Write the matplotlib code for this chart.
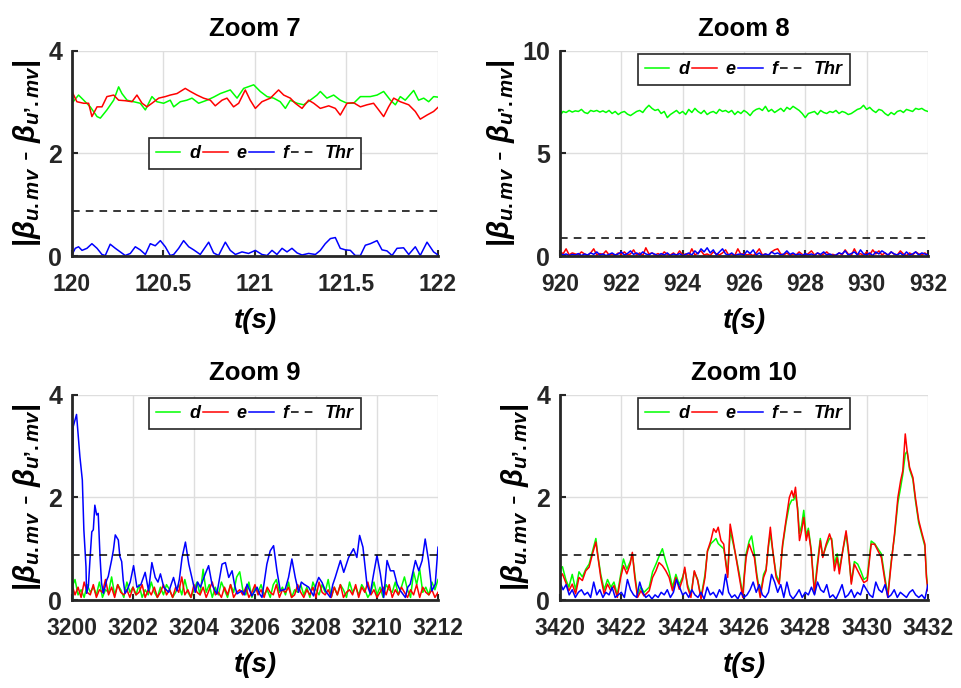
import numpy as np
import matplotlib.pyplot as plt

plt.rcParams['font.family'] = ['Liberation Sans', 'DejaVu Sans']
plt.rcParams['font.weight'] = 'bold'
plt.rcParams['mathtext.fontset'] = 'custom'
plt.rcParams['mathtext.it'] = 'Liberation Sans:italic:bold'
plt.rcParams['mathtext.rm'] = 'Liberation Sans:bold'
plt.rcParams['mathtext.bf'] = 'Liberation Sans:bold'
plt.rcParams['mathtext.default'] = 'it'

thr = 0.87

# ---- Zoom 7 : 120 s .. 122 s (time offsets in s) ----
t7_d = [0, 0.036, 0.064, 0.100, 0.137, 0.155, 0.191, 0.228, 0.255, 0.273,
        0.301, 0.337, 0.373, 0.401, 0.437, 0.464, 0.501, 0.537, 0.556, 0.592,
        0.628, 0.656, 0.692, 0.738, 0.774, 0.811, 0.865, 0.902, 0.938, 0.993,
        1.029, 1.066, 1.102, 1.138, 1.166, 1.193, 1.230, 1.266, 1.302, 1.339,
        1.357, 1.393, 1.430, 1.466, 1.503, 1.539, 1.576, 1.630, 1.667, 1.703,
        1.740, 1.767, 1.794, 1.821, 1.867, 1.894, 1.922, 1.949, 1.976, 2.0]
d7 = [2.98, 3.14, 3.04, 2.91, 2.72, 2.69, 2.85, 3.04, 3.30, 3.17,
      3.04, 3.01, 2.98, 2.85, 3.11, 3.01, 2.98, 3.04, 2.91, 3.01,
      3.04, 3.08, 2.98, 3.04, 3.10, 3.17, 3.24, 3.08, 3.27, 3.34,
      3.21, 3.11, 3.08, 3.01, 2.88, 3.04, 2.98, 2.95, 3.04, 3.14,
      3.21, 3.08, 3.14, 3.04, 2.98, 2.98, 3.11, 3.11, 3.14, 3.21,
      3.04, 2.95, 3.11, 3.04, 3.23, 3.04, 3.08, 3.01, 3.11, 3.10]
t7_e = [0, 0.027, 0.064, 0.091, 0.109, 0.137, 0.164, 0.191, 0.228, 0.255,
        0.291, 0.328, 0.355, 0.383, 0.410, 0.437, 0.474, 0.510, 0.537, 0.574,
        0.619, 0.647, 0.683, 0.719, 0.756, 0.783, 0.820, 0.847, 0.883, 0.911,
        0.947, 0.974, 1.002, 1.038, 1.084, 1.129, 1.157, 1.193, 1.220, 1.257,
        1.293, 1.321, 1.357, 1.403, 1.439, 1.466, 1.503, 1.539, 1.576, 1.612,
        1.648, 1.676, 1.703, 1.730, 1.758, 1.794, 1.840, 1.876, 1.903, 1.940,
        1.976, 2.0]
e7 = [3.21, 3.01, 2.98, 2.98, 2.72, 2.91, 2.91, 3.11, 3.14, 3.04,
      3.03, 3.01, 3.14, 2.98, 2.91, 2.98, 3.08, 3.11, 3.14, 3.17,
      3.27, 3.21, 3.14, 3.08, 3.04, 2.93, 3.04, 3.08, 2.91, 2.98,
      3.24, 3.04, 2.88, 3.01, 3.08, 3.24, 3.14, 3.08, 2.98, 2.88,
      3.04, 2.98, 2.88, 2.93, 2.88, 2.75, 2.98, 2.99, 2.91, 2.95,
      2.98, 2.85, 2.72, 2.91, 3.08, 3.01, 2.95, 2.82, 2.67, 2.75,
      2.82, 2.90]
t7_f = [0, 0.018, 0.036, 0.055, 0.082, 0.109, 0.137, 0.164, 0.182, 0.209,
        0.237, 0.264, 0.291, 0.319, 0.346, 0.373, 0.401, 0.428, 0.455, 0.483,
        0.510, 0.537, 0.556, 0.583, 0.610, 0.638, 0.665, 0.701, 0.747, 0.774,
        0.801, 0.838, 0.865, 0.893, 0.929, 0.965, 1.002, 1.038, 1.066, 1.093,
        1.120, 1.148, 1.175, 1.202, 1.230, 1.257, 1.293, 1.330, 1.357, 1.384,
        1.412, 1.439, 1.466, 1.494, 1.521, 1.548, 1.576, 1.603, 1.630, 1.667,
        1.694, 1.721, 1.749, 1.776, 1.812, 1.840, 1.876, 1.903, 1.940, 1.976,
        2.0]
f7 = [0.02, 0.15, 0.18, 0.11, 0.15, 0.24, 0.15, 0.03, 0.01, 0.23,
      0.15, 0.08, 0.01, 0.05, 0.18, 0.12, 0.03, 0.24, 0.20, 0.30,
      0.18, 0.01, 0.03, 0.15, 0.30, 0.18, 0.12, 0.03, 0.27, 0.06,
      0.01, 0.27, 0.11, 0.03, 0.08, 0.05, 0.11, 0.03, 0.01, 0.11,
      0.03, 0.15, 0.08, 0.15, 0.06, 0.02, 0.05, 0.03, 0.11, 0.24,
      0.34, 0.36, 0.15, 0.12, 0.11, 0.01, 0.01, 0.21, 0.24, 0.30,
      0.12, 0.10, 0.01, 0.15, 0.16, 0.03, 0.18, 0.01, 0.27, 0.08,
      0.02]

# ---- Zoom 8 : 920 s .. 932 s, one value every 0.1 s ----
d8 = [6.85, 7.05, 7.0, 7.1, 7.02, 7.08, 7.05, 7.15, 7.0, 6.95,
      7.1, 7.05, 7.1, 7.02, 7.08, 7.0, 7.1, 6.95, 7.05, 6.9,
      7.0, 7.05, 6.92, 6.85, 6.95, 7.05, 7.1, 7.0, 7.2, 7.35,
      7.2, 7.1, 7.15, 6.95, 7.05, 6.75, 6.9, 7.0, 7.1, 6.95,
      7.05, 6.9, 7.15, 7.0, 7.2, 7.05, 6.95, 7.1, 6.9, 7.0,
      7.05, 6.95, 7.15, 7.05, 7.1, 7.0, 7.1, 6.9, 7.05, 6.95,
      7.1, 7.0, 6.85, 7.05, 7.15, 7.2, 7.1, 7.3, 7.05, 7.15,
      7.0, 7.1, 7.2, 7.05, 7.25, 7.15, 7.3, 7.2, 7.1, 6.95,
      6.75, 6.95, 7.0, 7.05, 6.9, 7.1, 7.0, 6.95, 7.05, 7.0,
      7.1, 6.95, 7.05, 7.0, 6.9, 6.95, 7.05, 7.15, 7.2, 7.35,
      7.15, 7.25, 7.1, 7.0, 7.15, 7.1, 6.95, 6.85, 7.0, 6.9,
      7.05, 7.1, 7.0, 7.15, 7.1, 7.05, 7.2, 7.15, 7.2, 7.1,
      7.05]
e8 = [0.25, 0.1, 0.35, 0.05, 0.15, 0.1, 0.05, 0.2, 0.1, 0.02,
      0.15, 0.35, 0.05, 0.12, 0.08, 0.25, 0.05, 0.1, 0.02, 0.15,
      0.08, 0.2, 0.05, 0.1, 0.3, 0.05, 0.15, 0.02, 0.4, 0.1,
      0.15, 0.05, 0.12, 0.02, 0.2, 0.08, 0.05, 0.15, 0.02, 0.25,
      0.05, 0.1, 0.02, 0.35, 0.05, 0.15, 0.25, 0.05, 0.1, 0.02,
      0.2, 0.1, 0.05, 0.15, 0.3, 0.05, 0.1, 0.02, 0.35, 0.08,
      0.12, 0.05, 0.1, 0.02, 0.15, 0.35, 0.05, 0.1, 0.02, 0.2,
      0.3, 0.35, 0.1, 0.05, 0.15, 0.02, 0.1, 0.05, 0.2, 0.08,
      0.02, 0.12, 0.25, 0.05, 0.15, 0.02, 0.1, 0.2, 0.05, 0.08,
      0.02, 0.15, 0.05, 0.3, 0.1, 0.02, 0.35, 0.05, 0.12, 0.02,
      0.2, 0.05, 0.3, 0.1, 0.25, 0.05, 0.15, 0.02, 0.2, 0.08,
      0.05, 0.25, 0.1, 0.02, 0.15, 0.05, 0.2, 0.1, 0.05, 0.15,
      0.02]
f8 = [0.15, 0.05, 0.1, 0.02, 0.08, 0.05, 0.12, 0.02, 0.1, 0.05,
      0.15, 0.08, 0.2, 0.05, 0.1, 0.02, 0.08, 0.15, 0.05, 0.1,
      0.2, 0.05, 0.12, 0.25, 0.08, 0.15, 0.05, 0.2, 0.1, 0.05,
      0.15, 0.08, 0.02, 0.12, 0.05, 0.15, 0.02, 0.1, 0.05, 0.12,
      0.02, 0.08, 0.15, 0.05, 0.25, 0.1, 0.35, 0.2, 0.4, 0.15,
      0.3, 0.05, 0.2, 0.35, 0.1, 0.05, 0.15, 0.02, 0.08, 0.1,
      0.05, 0.25, 0.12, 0.3, 0.05, 0.15, 0.02, 0.1, 0.05, 0.2,
      0.1, 0.15, 0.05, 0.1, 0.25, 0.08, 0.15, 0.05, 0.1, 0.02,
      0.12, 0.05, 0.1, 0.02, 0.15, 0.08, 0.2, 0.05, 0.1, 0.02,
      0.05, 0.15, 0.1, 0.25, 0.05, 0.12, 0.2, 0.05, 0.3, 0.1,
      0.05, 0.15, 0.02, 0.2, 0.1, 0.25, 0.15, 0.05, 0.2, 0.1,
      0.05, 0.15, 0.02, 0.2, 0.05, 0.1, 0.2, 0.05, 0.15, 0.1,
      0.05]

# ---- Zoom 9 : 3200 s .. 3212 s ----
d9 = [0.25, 0.4, 0.1, 0.2, 0.05, 0.3, 0.15, 0.25, 0.1, 0.35,
      0.05, 0.2, 0.15, 0.45, 0.1, 0.3, 0.2, 0.05, 0.35, 0.15,
      0.25, 0.1, 0.3, 0.05, 0.2, 0.1, 0.35, 0.15, 0.05, 0.25,
      0.1, 0.3, 0.2, 0.05, 0.15, 0.3, 0.1, 0.4, 0.15, 0.05,
      0.2, 0.35, 0.1, 0.6, 0.15, 0.3, 0.05, 0.25, 0.1, 0.35,
      0.2, 0.05, 0.3, 0.15, 0.45, 0.55, 0.2, 0.1, 0.35, 0.05,
      0.25, 0.15, 0.3, 0.1, 0.2, 0.05, 0.3, 0.4, 0.15, 0.25,
      0.1, 0.35, 0.05, 0.2, 0.15, 0.3, 0.1, 0.25, 0.05, 0.35,
      0.2, 0.1, 0.3, 0.15, 0.4, 0.05, 0.25, 0.1, 0.3, 0.2,
      0.05, 0.35, 0.15, 0.25, 0.1, 0.3, 0.2, 0.05, 0.15, 0.35,
      0.1, 0.25, 0.05, 0.3, 0.2, 0.15, 0.35, 0.1, 0.25, 0.45,
      0.2, 0.05, 0.55, 0.3, 0.6, 0.15, 0.25, 0.1, 0.35, 0.2,
      0.4]
e9 = [0.3, 0.1, 0.25, 0.05, 0.35, 0.15, 0.1, 0.3, 0.05, 0.2,
      0.15, 0.4, 0.1, 0.25, 0.05, 0.3, 0.15, 0.1, 0.2, 0.05,
      0.25, 0.1, 0.15, 0.3, 0.05, 0.2, 0.1, 0.25, 0.05, 0.15,
      0.3, 0.1, 0.2, 0.05, 0.25, 0.15, 0.45, 0.1, 0.2, 0.05,
      0.3, 0.15, 0.1, 0.25, 0.05, 0.2, 0.35, 0.1, 0.15, 0.05,
      0.25, 0.1, 0.3, 0.05, 0.15, 0.2, 0.1, 0.25, 0.05, 0.15,
      0.3, 0.1, 0.2, 0.05, 0.25, 0.15, 0.1, 0.3, 0.05, 0.2,
      0.15, 0.25, 0.05, 0.1, 0.3, 0.15, 0.05, 0.2, 0.1, 0.25,
      0.05, 0.35, 0.15, 0.1, 0.2, 0.05, 0.25, 0.1, 0.3, 0.05,
      0.15, 0.2, 0.1, 0.3, 0.05, 0.25, 0.15, 0.35, 0.1, 0.2,
      0.05, 0.15, 0.25, 0.1, 0.3, 0.05, 0.2, 0.1, 0.25, 0.15,
      0.05, 0.2, 0.1, 0.3, 0.05, 0.25, 0.15, 0.1, 0.2, 0.05,
      0.15]
t9_f = [0.0, 0.04, 0.15, 0.26, 0.34, 0.39, 0.46, 0.48, 0.54, 0.59,
        0.65, 0.70, 0.75, 0.81, 0.86, 0.92, 0.97, 1.03, 1.14, 1.19,
        1.30, 1.36, 1.42, 1.52, 1.57, 1.63, 1.68, 1.74, 1.80, 1.91,
        2.02, 2.13, 2.26, 2.40, 2.51, 2.62, 2.73, 2.82, 2.90, 3.01,
        3.17, 3.25, 3.33, 3.44, 3.52, 3.61, 3.72, 3.83, 3.93, 4.04,
        4.12, 4.21, 4.37, 4.48, 4.59, 4.67, 4.75, 4.92, 5.03, 5.14,
        5.25, 5.33, 5.41, 5.57, 5.65, 5.74, 5.90, 6.07, 6.15, 6.23,
        6.39, 6.50, 6.61, 6.72, 6.83, 6.99, 7.10, 7.21, 7.32, 7.43,
        7.52, 7.60, 7.76, 7.92, 8.00, 8.09, 8.20, 8.31, 8.47, 8.55,
        8.63, 8.80, 8.91, 9.07, 9.23, 9.34, 9.43, 9.54, 9.67, 9.78,
        9.89, 10.00, 10.11, 10.22, 10.33, 10.44, 10.55, 10.66, 10.77, 10.93,
        11.01, 11.09, 11.26, 11.37, 11.48, 11.58, 11.69, 11.80, 11.91, 12.0]
f9 = [0.2, 3.38, 3.62, 2.80, 2.34, 1.37, 0.65, 0.13, 0.28, 0.78,
      1.33, 1.37, 1.85, 1.66, 1.69, 0.85, 0.33, 0.13, 0.39, 0.46,
      0.78, 0.98, 1.27, 1.17, 0.85, 0.75, 0.39, 0.13, 0.18, 0.35,
      0.67, 0.25, 0.30, 0.54, 0.18, 0.73, 0.44, 0.35, 0.51, 0.25,
      0.15, 0.30, 0.44, 0.18, 0.40, 0.83, 1.13, 0.70, 0.44, 0.15,
      0.35, 0.25, 0.51, 0.67, 0.31, 0.20, 0.12, 0.70, 0.73, 0.44,
      0.57, 0.30, 0.12, 0.18, 0.10, 0.31, 0.08, 0.25, 0.12, 0.05,
      0.70, 0.96, 1.06, 0.57, 0.18, 0.21, 0.44, 0.80, 0.44, 0.15,
      0.35, 0.31, 0.25, 0.08, 0.30, 0.44, 0.34, 0.18, 0.05, 0.30,
      0.44, 0.77, 0.54, 0.83, 1.00, 0.83, 1.26, 1.03, 0.31, 0.12,
      0.51, 0.87, 0.51, 0.05, 0.77, 0.57, 0.57, 0.31, 0.18, 0.05,
      0.25, 0.31, 0.77, 0.57, 0.77, 1.19, 0.77, 0.18, 0.31, 1.03]

# ---- Zoom 10 : 3420 s .. 3432 s ----
t10 = [0.0, 0.08, 0.19, 0.29, 0.40, 0.51, 0.62, 0.73, 0.84, 0.95,
       1.06, 1.17, 1.24, 1.33, 1.44, 1.55, 1.66, 1.76, 1.87, 1.98,
       2.07, 2.18, 2.29, 2.36, 2.44, 2.53, 2.64, 2.74, 2.91, 3.02,
       3.13, 3.23, 3.34, 3.45, 3.56, 3.67, 3.78, 3.89, 4.00, 4.07,
       4.16, 4.27, 4.38, 4.49, 4.60, 4.73, 4.81, 4.92, 5.01, 5.09,
       5.16, 5.25, 5.34, 5.41, 5.47, 5.55, 5.63, 5.74, 5.85, 5.96,
       6.01, 6.07, 6.17, 6.25, 6.34, 6.42, 6.53, 6.64, 6.72, 6.80,
       6.86, 6.94, 7.05, 7.15, 7.26, 7.37, 7.48, 7.56, 7.62, 7.68,
       7.75, 7.81, 7.88, 7.95, 8.03, 8.10, 8.19, 8.30, 8.38, 8.49,
       8.57, 8.68, 8.79, 8.86, 8.95, 9.04, 9.11, 9.22, 9.33, 9.41,
       9.50, 9.60, 9.71, 9.82, 9.91, 10.02, 10.15, 10.26, 10.37, 10.48,
       10.58, 10.69, 10.80, 10.91, 11.02, 11.11, 11.18, 11.26, 11.32, 11.40,
       11.51, 11.59, 11.70, 11.81, 11.90, 11.95, 12.0]
d10 = [0.60, 0.65, 0.40, 0.25, 0.50, 0.20, 0.55, 0.45, 0.60, 0.70,
       0.95, 1.20, 0.85, 0.50, 0.20, 0.40, 0.25, 0.35, 0.10, 0.50,
       0.80, 0.60, 0.75, 0.90, 0.50, 0.10, 0.25, 0.15, 0.25, 0.55,
       0.70, 0.85, 1.00, 0.75, 0.55, 0.25, 0.50, 0.30, 0.45, 0.60,
       0.30, 0.10, 0.55, 0.40, 0.05, 0.50, 0.95, 1.10, 1.15, 1.20,
       1.10, 1.05, 1.00, 0.75, 0.50, 1.35, 1.15, 0.85, 0.50, 0.10,
       0.50, 0.90, 1.15, 1.25, 0.90, 0.50, 0.10, 0.50, 0.60, 1.05,
       1.30, 0.95, 0.50, 0.35, 1.05, 1.50, 1.85, 1.95, 1.95, 2.05,
       1.80, 1.30, 1.45, 1.75, 1.25, 1.40, 1.00, 0.15, 0.65, 1.20,
       0.85, 1.05, 1.20, 1.20, 0.70, 0.90, 0.60, 0.95, 1.30, 0.90,
       0.35, 0.75, 0.70, 0.55, 0.40, 0.45, 1.15, 1.10, 1.00, 0.90,
       0.50, 0.10, 0.75, 1.25, 1.90, 2.20, 2.45, 2.85, 2.90, 2.55,
       2.35, 1.95, 1.50, 1.25, 1.05, 0.50, 0.20]
e10 = [0.44, 0.51, 0.34, 0.18, 0.31, 0.12, 0.44, 0.38, 0.57, 0.64,
       0.90, 1.13, 0.83, 0.44, 0.12, 0.31, 0.18, 0.28, 0.05, 0.44,
       0.67, 0.51, 0.70, 0.93, 0.44, 0.05, 0.18, 0.08, 0.18, 0.44,
       0.57, 0.73, 0.67, 0.57, 0.44, 0.18, 0.44, 0.21, 0.41, 0.64,
       0.25, 0.05, 0.57, 0.38, 0.02, 0.44, 0.96, 1.16, 1.39, 1.32,
       1.42, 1.16, 1.09, 0.70, 0.44, 1.48, 1.22, 0.83, 0.44, 0.05,
       0.44, 0.83, 1.09, 0.96, 0.83, 0.44, 0.05, 0.44, 0.57, 1.09,
       1.42, 0.96, 0.44, 0.31, 1.09, 1.55, 2.00, 2.13, 2.00, 2.20,
       1.74, 1.16, 1.35, 1.61, 1.16, 1.35, 0.96, 0.12, 0.57, 1.16,
       0.83, 1.09, 1.29, 1.16, 0.57, 0.83, 0.51, 0.96, 1.35, 0.96,
       0.31, 0.70, 0.57, 0.44, 0.34, 0.38, 1.09, 1.09, 0.96, 0.83,
       0.44, 0.05, 0.70, 1.29, 2.00, 2.33, 2.52, 3.24, 2.91, 2.59,
       2.39, 2.00, 1.55, 1.29, 1.09, 0.44, 0.18]
f10 = [0.35, 0.2, 0.3, 0.1, 0.2, 0.05, 0.15, 0.2, 0.1, 0.15,
       0.05, 0.35, 0.1, 0.2, 0.05, 0.15, 0.1, 0.25, 0.05, 0.1,
       0.15, 0.05, 0.4, 0.2, 0.1, 0.05, 0.35, 0.15, 0.05, 0.1,
       0.02, 0.1, 0.05, 0.15, 0.1, 0.2, 0.05, 0.15, 0.4, 0.25,
       0.1, 0.15, 0.05, 0.2, 0.1, 0.05, 0.15, 0.02, 0.25, 0.1,
       0.15, 0.05, 0.2, 0.1, 0.5, 0.15, 0.05, 0.1, 0.02, 0.15,
       0.05, 0.1, 0.2, 0.35, 0.15, 0.3, 0.1, 0.05, 0.15, 0.5,
       0.35, 0.15, 0.3, 0.05, 0.35, 0.1, 0.02, 0.1, 0.2, 0.05,
       0.15, 0.1, 0.25, 0.1, 0.35, 0.2, 0.15, 0.3, 0.05, 0.1,
       0.02, 0.15, 0.3, 0.05, 0.1, 0.2, 0.05, 0.15, 0.1, 0.3,
       0.2, 0.1, 0.05, 0.35, 0.2, 0.15, 0.3, 0.05, 0.1, 0.2,
       0.05, 0.15, 0.1, 0.05, 0.15, 0.2, 0.1, 0.05, 0.1, 0.02,
       0.3]

GREEN, RED, BLUE = '#00ff00', '#ff0000', '#0000ff'
ylab = "$|\\beta_{u.mv}$ - $\\beta_{u\u2019.mv}|$"


def panel(ax, title, xlim, xticks, ylim, yticks, series, legend_loc):
    for (t, v, c, name) in series:
        ax.plot(t, v, color=c, lw=1.1, label=name)
    ax.plot(xlim, [thr, thr], 'k--', lw=1.1, label='Thr', dashes=(5, 4))
    ax.set_xlim(xlim)
    ax.set_ylim(ylim)
    ax.set_xticks(xticks)
    ax.set_yticks(yticks)
    ax.set_xticklabels([('%g' % x) for x in xticks])
    ax.grid(True, color='#dedede', lw=1.0)
    ax.set_axisbelow(True)
    for s in ['top', 'right']:
        ax.spines[s].set_visible(False)
    for s in ['left', 'bottom']:
        ax.spines[s].set_linewidth(2.0)
        ax.spines[s].set_color('#262626')
    ax.tick_params(direction='in', length=4, width=1.5, labelsize=16.5,
                   colors='#262626')
    ax.tick_params(axis='x', pad=12)
    ax.tick_params(axis='y', pad=7, labelsize=18)
    ax.set_title(title, fontsize=18.5, fontweight='bold', pad=11)
    ax.set_xlabel('t(s)', fontsize=20, fontstyle='italic', fontweight='bold', labelpad=9)
    ax.set_ylabel(ylab, fontsize=21, labelpad=4)
    leg = ax.legend(loc=legend_loc, ncol=4, fontsize=13, handlelength=1.35,
                    handletextpad=0.5, columnspacing=0.15, borderpad=0.4,
                    fancybox=False, framealpha=1, edgecolor='#262626',
                    borderaxespad=0.15)
    leg.get_frame().set_linewidth(1.2)
    for txt in leg.get_texts():
        txt.set_fontstyle('italic')
        txt.set_fontweight('bold')


fig = plt.figure(figsize=(9.62, 6.88), dpi=100)
ax1 = fig.add_axes([0.0748, 0.6279, 0.3805, 0.2980])
ax2 = fig.add_axes([0.5821, 0.6279, 0.3825, 0.2980])
ax3 = fig.add_axes([0.0748, 0.1279, 0.3805, 0.2980])
ax4 = fig.add_axes([0.5821, 0.1279, 0.3825, 0.2980])

panel(ax1, 'Zoom 7', [120, 122], [120, 120.5, 121, 121.5, 122], [0, 4], [0, 2, 4],
      [(120 + np.array(t7_d), d7, GREEN, 'd'),
       (120 + np.array(t7_e), e7, RED, 'e'),
       (120 + np.array(t7_f), f7, BLUE, 'f')], 'center')

t8 = np.linspace(920, 932, len(d8))
panel(ax2, 'Zoom 8', [920, 932], list(range(920, 933, 2)), [0, 10], [0, 5, 10],
      [(t8, d8, GREEN, 'd'), (t8, e8, RED, 'e'), (t8, f8, BLUE, 'f')], 'upper center')

t9 = np.linspace(3200, 3212, len(d9))
panel(ax3, 'Zoom 9', [3200, 3212], list(range(3200, 3213, 2)), [0, 4], [0, 2, 4],
      [(t9, d9, GREEN, 'd'), (t9, e9, RED, 'e'),
       (3200 + np.array(t9_f), f9, BLUE, 'f')], 'upper center')

t10f = np.linspace(3420, 3432, len(f10))
panel(ax4, 'Zoom 10', [3420, 3432], list(range(3420, 3433, 2)), [0, 4], [0, 2, 4],
      [(3420 + np.array(t10), d10, GREEN, 'd'),
       (3420 + np.array(t10), e10, RED, 'e'),
       (t10f, f10, BLUE, 'f')], 'upper center')

fig.savefig('out.png', dpi=100)
